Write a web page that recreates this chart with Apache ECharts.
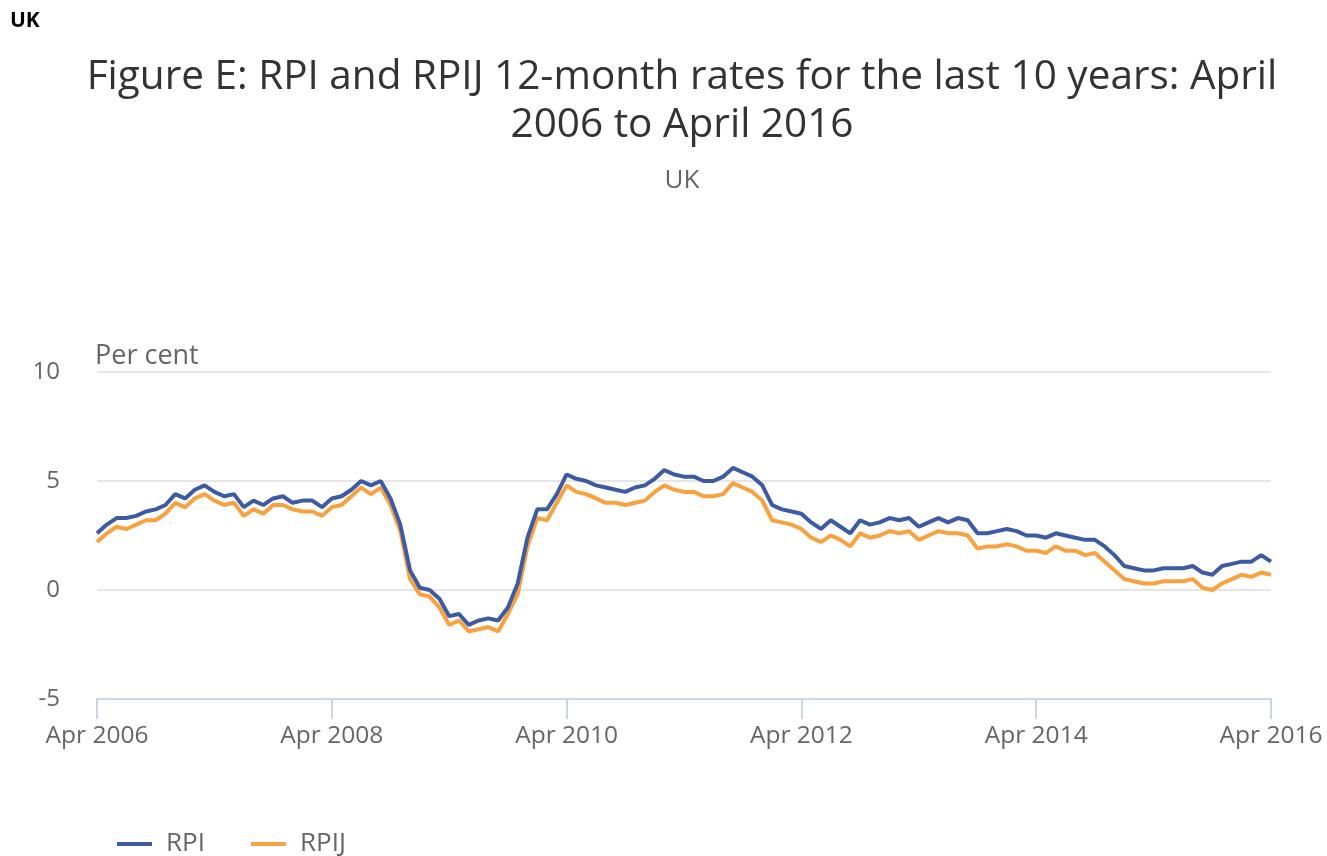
<!DOCTYPE html>
<html>
<head>
<meta charset="utf-8">
<script src="https://cdn.jsdelivr.net/npm/echarts@6/dist/echarts.min.js"></script>
<style>
html,body{margin:0;padding:0;background:#fff;}
#chart{width:1327px;height:856px;}
</style>
</head>
<body>
<div id="chart"></div>
<script>
// Month labels Apr 2006 .. Apr 2016
var monthNames = ['Jan','Feb','Mar','Apr','May','Jun','Jul','Aug','Sep','Oct','Nov','Dec'];
var categories = [];
(function(){
  var y = 2006, m = 3;
  while (y < 2016 || (y === 2016 && m <= 3)) {
    categories.push(monthNames[m] + ' ' + y);
    m++; if (m > 11) { m = 0; y++; }
  }
})();

var rpi = [
  2.6, 3.0, 3.3, 3.3, 3.4, 3.6, 3.7, 3.9, 4.4,
  4.2, 4.6, 4.8, 4.5, 4.3, 4.4, 3.8, 4.1, 3.9, 4.2, 4.3, 4.0,
  4.1, 4.1, 3.8, 4.2, 4.3, 4.6, 5.0, 4.8, 5.0, 4.2, 3.0, 0.9,
  0.1, 0.0, -0.4, -1.2, -1.1, -1.6, -1.4, -1.3, -1.4, -0.8, 0.3, 2.4,
  3.7, 3.7, 4.4, 5.3, 5.1, 5.0, 4.8, 4.7, 4.6, 4.5, 4.7, 4.8,
  5.1, 5.5, 5.3, 5.2, 5.2, 5.0, 5.0, 5.2, 5.6, 5.4, 5.2, 4.8,
  3.9, 3.7, 3.6, 3.5, 3.1, 2.8, 3.2, 2.9, 2.6, 3.2, 3.0, 3.1,
  3.3, 3.2, 3.3, 2.9, 3.1, 3.3, 3.1, 3.3, 3.2, 2.6, 2.6, 2.7,
  2.8, 2.7, 2.5, 2.5, 2.4, 2.6, 2.5, 2.4, 2.3, 2.3, 2.0, 1.6,
  1.1, 1.0, 0.9, 0.9, 1.0, 1.0, 1.0, 1.1, 0.8, 0.7, 1.1, 1.2,
  1.3, 1.3, 1.6, 1.3
];

var rpij = [
  2.2, 2.6, 2.9, 2.8, 3.0, 3.2, 3.2, 3.5, 4.0,
  3.8, 4.2, 4.4, 4.1, 3.9, 4.0, 3.4, 3.7, 3.5, 3.9, 3.9, 3.7,
  3.6, 3.6, 3.4, 3.8, 3.9, 4.3, 4.7, 4.4, 4.7, 3.9, 2.7, 0.5,
  -0.2, -0.3, -0.8, -1.6, -1.4, -1.9, -1.8, -1.7, -1.9, -1.1, -0.2, 2.0,
  3.3, 3.2, 4.0, 4.8, 4.5, 4.4, 4.2, 4.0, 4.0, 3.9, 4.0, 4.1,
  4.5, 4.8, 4.6, 4.5, 4.5, 4.3, 4.3, 4.4, 4.9, 4.7, 4.5, 4.1,
  3.2, 3.1, 3.0, 2.8, 2.4, 2.2, 2.5, 2.3, 2.0, 2.6, 2.4, 2.5,
  2.7, 2.6, 2.7, 2.3, 2.5, 2.7, 2.6, 2.6, 2.5, 1.9, 2.0, 2.0,
  2.1, 2.0, 1.8, 1.8, 1.7, 2.0, 1.8, 1.8, 1.6, 1.7, 1.3, 0.9,
  0.5, 0.4, 0.3, 0.3, 0.4, 0.4, 0.4, 0.5, 0.1, 0.0, 0.3, 0.5,
  0.7, 0.6, 0.8, 0.7
];

var yTicks = [-5, 0, 5, 10];
var seriesNames = ['RPI', 'RPIJ'];

var FONT = '"Open Sans", "Noto Sans", sans-serif';
var chart = echarts.init(document.getElementById('chart'), null, {renderer: 'canvas'});
chart.setOption({
  animation: false,
  backgroundColor: '#ffffff',
  title: [
    {text: 'UK', left: 5, top: 6,
     textStyle: {fontFamily: '"Open Sans", "Liberation Sans", sans-serif', fontWeight: 'bold', fontSize: 21, color: '#000'}},
    {text: 'Figure E: RPI and RPIJ 12-month rates for the last 10 years: April\n2006 to April 2016',
     left: 677, top: 48, textAlign: 'center',
     textStyle: {fontFamily: FONT, fontWeight: 'normal', fontSize: 40.5, lineHeight: 48, color: '#333333'}},
    {text: 'UK', left: 677, top: 163, textAlign: 'center',
     textStyle: {fontFamily: FONT, fontWeight: 'normal', fontSize: 26, color: '#666666'}},
    {text: 'Per cent', left: 90, top: 338,
     textStyle: {fontFamily: FONT, fontWeight: 'normal', fontSize: 27, color: '#666666'}}
  ],
  legend: {
    data: seriesNames,
    left: 112, top: 826,
    icon: 'rect', itemWidth: 35, itemHeight: 4, itemGap: 46,
    textStyle: {fontFamily: FONT, fontSize: 26, color: '#666666', padding: [0, 0, 0, 9]}
  },
  grid: {left: 97, right: 56, top: 372, bottom: 157, containLabel: false},
  xAxis: {
    type: 'category',
    data: categories,
    boundaryGap: false,
    axisLine: {show: true, onZero: false, lineStyle: {color: '#ccd6eb', width: 2}},
    axisTick: {show: true, interval: 23, length: 20, lineStyle: {color: '#ccd6eb', width: 2}},
    axisLabel: {interval: 23, margin: 25, fontFamily: FONT, fontSize: 24.5, color: '#666666'},
    splitLine: {show: false}
  },
  yAxis: {
    type: 'value',
    min: yTicks[0], max: yTicks[yTicks.length - 1], interval: 5,
    axisLine: {show: false},
    axisTick: {show: false},
    axisLabel: {margin: 37, fontFamily: FONT, fontSize: 24, color: '#666666'},
    splitLine: {show: true, lineStyle: {color: '#e6e6e6', width: 2}}
  },
  series: [
    {name: seriesNames[0], type: 'line', data: rpi, showSymbol: false, symbol: 'none',
     lineStyle: {color: '#3d5ba3', width: 4}, itemStyle: {color: '#3d5ba3'}, z: 3},
    {name: seriesNames[1], type: 'line', data: rpij, showSymbol: false, symbol: 'none',
     lineStyle: {color: '#f9a13e', width: 4}, itemStyle: {color: '#f9a13e'}, z: 2}
  ]
});
</script>
</body>
</html>
